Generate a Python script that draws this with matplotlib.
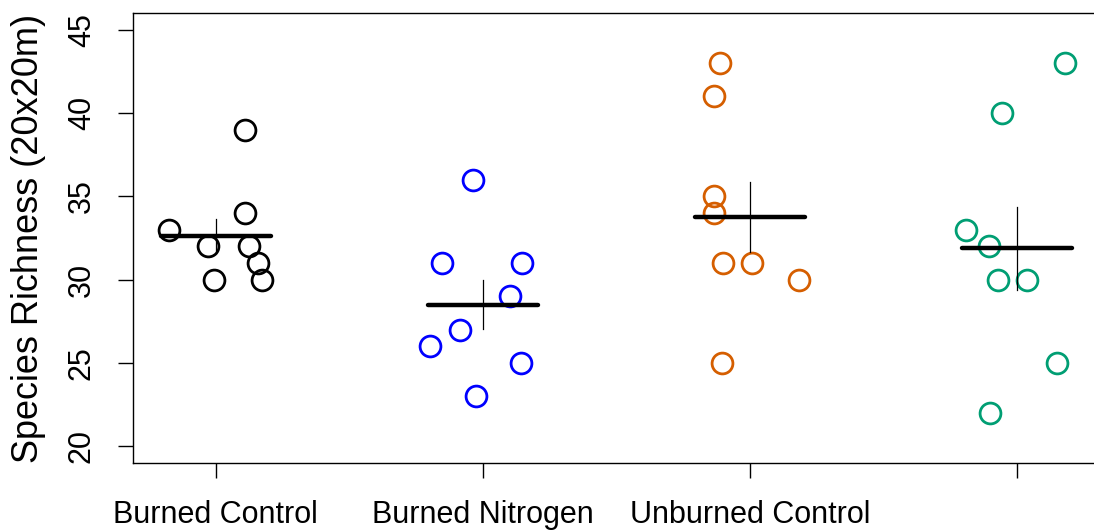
import numpy as np
import matplotlib.pyplot as plt

plt.rcParams['font.family'] = ['Liberation Sans', 'DejaVu Sans']

# treatments and plot-level species richness (20x20m plots)
groups = ['Burned Control', 'Burned Nitrogen', 'Unburned Control', 'Unburned Nitrogen']
colors = ['black', '#0000FF', '#D55E00', '#009E73']

richness = [
    [33, 32, 30, 39, 34, 32, 31, 30],
    [31, 36, 31, 29, 27, 26, 25, 23],
    [43, 41, 35, 34, 31, 31, 30, 25],
    [43, 40, 33, 32, 30, 30, 25, 22],
]
# horizontal jitter used in the strip chart
jitter = [
    [-0.176, -0.030, -0.007, 0.111, 0.109, 0.124, 0.158, 0.173],
    [-0.151, -0.036, 0.147, 0.102, -0.084, -0.196, 0.143, -0.024],
    [-0.111, -0.135, -0.134, -0.134, -0.102, 0.007, 0.185, -0.106],
    [0.181, -0.055, -0.190, -0.104, -0.070, 0.039, 0.150, -0.100],
]
yticks = [20, 25, 30, 35, 40, 45]

fig = plt.figure(figsize=(10.94, 5.32), dpi=100)
ax = fig.add_axes([0.1216, 0.1297, 0.9055, 0.8459])

for i, (vals, jit, col) in enumerate(zip(richness, jitter, colors)):
    pos = i + 1
    vals = np.array(vals, dtype=float)
    ax.plot(pos + np.array(jit), vals, 'o', mfc='none', mec=col,
            ms=15, mew=2.0, zorder=3)
    # mean bar with +/- 1 SE whisker
    m = vals.mean()
    se = vals.std(ddof=1) / np.sqrt(len(vals))
    ax.plot([pos - 0.205, pos + 0.205], [m, m], color='black', lw=3.2,
            solid_capstyle='round', zorder=4)
    ax.plot([pos, pos], [m - se, m + se], color='black', lw=0.9, zorder=4)

ax.set_xlim(0.69, 4.4)
ax.set_ylim(19, 46)
ax.set_xticks(range(1, 5))
ax.set_xticklabels(groups[:3] + [''])
ax.set_yticks(yticks)
ax.set_yticklabels([str(t) for t in yticks], rotation=90, va='center')
ax.tick_params(axis='both', length=10.5, width=1.0, labelsize=22, direction='out')
ax.tick_params(axis='x', pad=16.5)
ax.tick_params(axis='y', pad=15.5)
ax.set_ylabel('Species Richness (20x20m)', fontsize=26)
ax.yaxis.set_label_coords(-0.088, 0.5)
for s in ax.spines.values():
    s.set_linewidth(1.0)

fig.savefig('out.png', dpi=100)
